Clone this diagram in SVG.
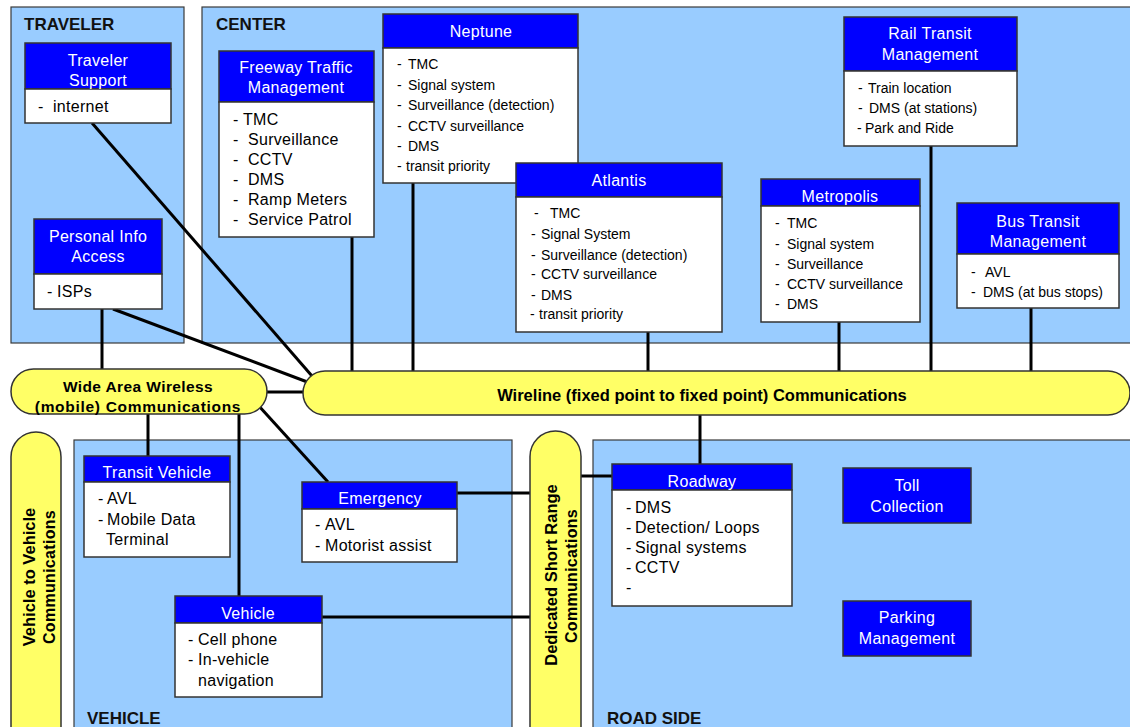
<svg xmlns="http://www.w3.org/2000/svg" width="1130" height="727" viewBox="0 0 1130 727">
<style>
.panel{fill:#99CCFF;stroke:#3a3a3a;stroke-width:1.2}
.plabel{font-family:"Liberation Sans",Arial,sans-serif;font-weight:bold;font-size:17px;fill:#111}
.hdr{fill:#0000FF;stroke:#333;stroke-width:1.5}
.body{fill:#FFFFFF;stroke:#333;stroke-width:1.5}
.ht{font-family:"Liberation Sans",Arial,sans-serif;font-size:16px;fill:#FFFFFF;text-anchor:middle;letter-spacing:0.3px}
.bt{font-family:"Liberation Sans",Arial,sans-serif;font-size:16px;fill:#000;letter-spacing:0.3px}
.bs{font-family:"Liberation Sans",Arial,sans-serif;font-size:14px;fill:#000}
.comm{fill:#FFFF66;stroke:#333;stroke-width:1.5}
.ct{font-family:"Liberation Sans",Arial,sans-serif;font-weight:bold;fill:#000;text-anchor:middle}
.conn line{stroke:#000;stroke-width:3}
</style>
<rect width="1130" height="727" fill="#FFFFFF"/>
<g id="panels">
<rect class="panel" x="11" y="7" width="173" height="336"/>
<rect class="panel" x="202" y="7" width="935" height="336"/>
<rect class="panel" x="74" y="440" width="438" height="300"/>
<rect class="panel" x="593" y="440" width="545" height="300"/>
<text class="plabel" x="24" y="30">TRAVELER</text>
<text class="plabel" x="216" y="30" font-size="16.5">CENTER</text>
<text class="plabel" x="87" y="724">VEHICLE</text>
<text class="plabel" x="607" y="724" font-size="16">ROAD SIDE</text>
</g>
<g id="connectors" class="conn">
<line x1="92" y1="123" x2="312" y2="376"/>
<line x1="113" y1="309" x2="310" y2="383"/>
<line x1="102" y1="309" x2="102" y2="370"/>
<line x1="352" y1="237" x2="352" y2="372"/>
<line x1="413" y1="183" x2="413" y2="372"/>
<line x1="648" y1="332" x2="648" y2="372"/>
<line x1="839" y1="322" x2="839" y2="372"/>
<line x1="931" y1="146" x2="931" y2="372"/>
<line x1="1031" y1="308" x2="1031" y2="372"/>
<line x1="265" y1="392" x2="305" y2="392"/>
<line x1="148" y1="413" x2="148" y2="456"/>
<line x1="239" y1="413" x2="239" y2="596"/>
<line x1="258" y1="405" x2="328" y2="482"/>
<line x1="700" y1="414" x2="700" y2="464"/>
<line x1="457" y1="493" x2="531" y2="493"/>
<line x1="322" y1="617" x2="531" y2="617"/>
<line x1="580" y1="476" x2="612" y2="476"/>
</g>
<g id="wide-area-wireless">
<rect class="comm" x="11" y="369" width="256" height="45" rx="22.5"/>
<text class="ct" x="138" y="392" font-size="15.5" letter-spacing="0.4">Wide Area Wireless</text>
<text class="ct" x="138" y="412" font-size="15.5" letter-spacing="0.7">(mobile) Communications</text>
</g>
<g id="wireline">
<rect class="comm" x="303" y="371" width="827" height="44" rx="22"/>
<text class="ct" x="702" y="401" font-size="16.5">Wireline (fixed point to fixed point) Communications</text>
</g>
<g id="vehicle-to-vehicle">
<rect class="comm" x="11" y="432" width="50" height="330" rx="25"/>
<text class="ct" font-size="16.5" transform="translate(35,577) rotate(-90)">Vehicle to Vehicle</text>
<text class="ct" font-size="16" letter-spacing="0.3" transform="translate(55,577) rotate(-90)">Communications</text>
</g>
<g id="dsrc">
<rect class="comm" x="530" y="431" width="51" height="330" rx="25.5"/>
<text class="ct" font-size="16.5" transform="translate(557,575) rotate(-90)">Dedicated Short Range</text>
<text class="ct" font-size="16" letter-spacing="0.3" transform="translate(577,576) rotate(-90)">Communications</text>
</g>
<g id="traveler-support">
<rect class="hdr" x="25" y="43" width="146" height="46"/>
<rect class="body" x="25" y="89" width="146" height="34"/>
<text class="ht" x="98" y="66">Traveler</text>
<text class="ht" x="98" y="86">Support</text>
<text class="bt" y="112"><tspan x="38">-</tspan><tspan x="53">internet</tspan></text>
</g>
<g id="personal-info-access">
<rect class="hdr" x="34" y="219" width="128" height="55"/>
<rect class="body" x="34" y="274" width="128" height="35"/>
<text class="ht" x="98" y="242">Personal Info</text>
<text class="ht" x="98" y="262">Access</text>
<text class="bt" y="297"><tspan x="47">-</tspan><tspan x="57">ISPs</tspan></text>
</g>
<g id="freeway-traffic-management">
<rect class="hdr" x="219" y="51" width="155" height="51"/>
<rect class="body" x="219" y="102" width="155" height="135"/>
<text class="ht" x="296" y="73">Freeway Traffic</text>
<text class="ht" x="296" y="93">Management</text>
<text class="bt" y="125"><tspan x="233">-</tspan><tspan x="243">TMC</tspan></text>
<text class="bt" y="145"><tspan x="233">-</tspan><tspan x="248">Surveillance</tspan></text>
<text class="bt" y="165"><tspan x="233">-</tspan><tspan x="248">CCTV</tspan></text>
<text class="bt" y="185"><tspan x="233">-</tspan><tspan x="248">DMS</tspan></text>
<text class="bt" y="205"><tspan x="233">-</tspan><tspan x="248">Ramp Meters</tspan></text>
<text class="bt" y="225"><tspan x="233">-</tspan><tspan x="248">Service Patrol</tspan></text>
</g>
<g id="neptune">
<rect class="hdr" x="383" y="14" width="195" height="34"/>
<rect class="body" x="383" y="48" width="195" height="135"/>
<text class="ht" x="481" y="37" letter-spacing="1">Neptune</text>
<text class="bs" y="69"><tspan x="397">-</tspan><tspan x="408">TMC</tspan></text>
<text class="bs" y="90"><tspan x="397">-</tspan><tspan x="408">Signal system</tspan></text>
<text class="bs" y="110"><tspan x="397">-</tspan><tspan x="408">Surveillance (detection)</tspan></text>
<text class="bs" y="131"><tspan x="397">-</tspan><tspan x="408">CCTV surveillance</tspan></text>
<text class="bs" y="151"><tspan x="397">-</tspan><tspan x="408">DMS</tspan></text>
<text class="bs" y="171"><tspan x="397">-</tspan><tspan x="406">transit priority</tspan></text>
</g>
<g id="atlantis">
<rect class="hdr" x="516" y="163" width="206" height="34"/>
<rect class="body" x="516" y="197" width="206" height="135"/>
<text class="ht" x="619" y="186" letter-spacing="1.2">Atlantis</text>
<text class="bs" y="218"><tspan x="534">-</tspan><tspan x="550">TMC</tspan></text>
<text class="bs" y="239"><tspan x="531">-</tspan><tspan x="541">Signal System</tspan></text>
<text class="bs" y="260"><tspan x="531">-</tspan><tspan x="541">Surveillance (detection)</tspan></text>
<text class="bs" y="279"><tspan x="531">-</tspan><tspan x="541">CCTV surveillance</tspan></text>
<text class="bs" y="300"><tspan x="531">-</tspan><tspan x="541">DMS</tspan></text>
<text class="bs" y="319"><tspan x="530">-</tspan><tspan x="539">transit priority</tspan></text>
</g>
<g id="rail-transit-management">
<rect class="hdr" x="844" y="17" width="173" height="54"/>
<rect class="body" x="844" y="71" width="173" height="75"/>
<text class="ht" x="930" y="39">Rail Transit</text>
<text class="ht" x="930" y="60">Management</text>
<text class="bs" y="93"><tspan x="858">-</tspan><tspan x="868">Train location</tspan></text>
<text class="bs" y="113"><tspan x="858">-</tspan><tspan x="869">DMS (at stations)</tspan></text>
<text class="bs" y="133"><tspan x="857">-</tspan><tspan x="865">Park and Ride</tspan></text>
</g>
<g id="metropolis">
<rect class="hdr" x="761" y="179" width="159" height="27"/>
<rect class="body" x="761" y="206" width="159" height="116"/>
<text class="ht" x="840" y="202">Metropolis</text>
<text class="bs" y="228"><tspan x="775">-</tspan><tspan x="787">TMC</tspan></text>
<text class="bs" y="249"><tspan x="775">-</tspan><tspan x="787">Signal system</tspan></text>
<text class="bs" y="269"><tspan x="775">-</tspan><tspan x="787">Surveillance</tspan></text>
<text class="bs" y="289"><tspan x="775">-</tspan><tspan x="787">CCTV surveillance</tspan></text>
<text class="bs" y="309"><tspan x="775">-</tspan><tspan x="787">DMS</tspan></text>
</g>
<g id="bus-transit-management">
<rect class="hdr" x="957" y="203" width="162" height="51"/>
<rect class="body" x="957" y="254" width="162" height="54"/>
<text class="ht" x="1038" y="227">Bus Transit</text>
<text class="ht" x="1038" y="247">Management</text>
<text class="bs" y="277"><tspan x="971">-</tspan><tspan x="985">AVL</tspan></text>
<text class="bs" y="297"><tspan x="971">-</tspan><tspan x="983">DMS (at bus stops)</tspan></text>
</g>
<g id="transit-vehicle">
<rect class="hdr" x="84" y="456" width="146" height="26"/>
<rect class="body" x="84" y="482" width="146" height="75"/>
<text class="ht" x="157" y="478">Transit Vehicle</text>
<text class="bt" y="504"><tspan x="98">-</tspan><tspan x="107">AVL</tspan></text>
<text class="bt" y="525"><tspan x="98">-</tspan><tspan x="107">Mobile Data</tspan></text>
<text class="bt" y="545" x="106">Terminal</text>
</g>
<g id="emergency">
<rect class="hdr" x="302" y="482" width="155" height="27"/>
<rect class="body" x="302" y="509" width="155" height="53"/>
<text class="ht" x="380" y="504">Emergency</text>
<text class="bt" y="530"><tspan x="315">-</tspan><tspan x="325">AVL</tspan></text>
<text class="bt" y="551"><tspan x="315">-</tspan><tspan x="325">Motorist assist</tspan></text>
</g>
<g id="vehicle">
<rect class="hdr" x="175" y="596" width="147" height="27"/>
<rect class="body" x="175" y="623" width="147" height="74"/>
<text class="ht" x="248" y="619">Vehicle</text>
<text class="bt" y="645"><tspan x="188">-</tspan><tspan x="198">Cell phone</tspan></text>
<text class="bt" y="665"><tspan x="188">-</tspan><tspan x="198">In-vehicle</tspan></text>
<text class="bt" y="686" x="198">navigation</text>
</g>
<g id="roadway">
<rect class="hdr" x="612" y="464" width="180" height="26"/>
<rect class="body" x="612" y="490" width="180" height="116"/>
<text class="ht" x="702" y="487">Roadway</text>
<text class="bt" y="513"><tspan x="626">-</tspan><tspan x="635">DMS</tspan></text>
<text class="bt" y="533"><tspan x="626">-</tspan><tspan x="635">Detection/ Loops</tspan></text>
<text class="bt" y="553"><tspan x="626">-</tspan><tspan x="635">Signal systems</tspan></text>
<text class="bt" y="573"><tspan x="626">-</tspan><tspan x="635">CCTV</tspan></text>
<text class="bt" y="593" x="626">-</text>
</g>
<g id="toll-collection">
<rect class="hdr" x="843" y="468" width="128" height="55"/>
<text class="ht" x="907" y="491">Toll</text>
<text class="ht" x="907" y="512">Collection</text>
</g>
<g id="parking-management">
<rect class="hdr" x="843" y="601" width="128" height="55"/>
<text class="ht" x="907" y="623">Parking</text>
<text class="ht" x="907" y="644">Management</text>
</g>
</svg>
